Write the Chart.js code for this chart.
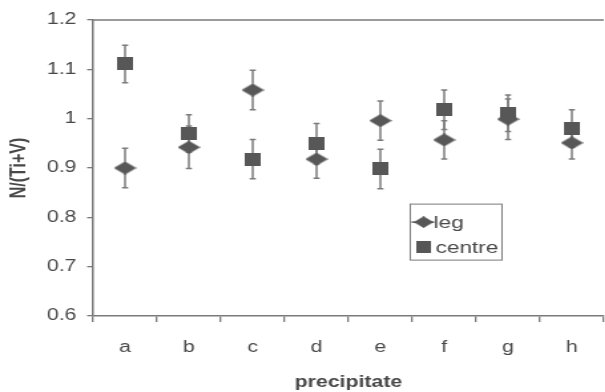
<!DOCTYPE html>
<html>
<head>
<meta charset="utf-8">
<script src="https://cdn.jsdelivr.net/npm/chart.js@4"></script>
<style>
  html, body { margin: 0; padding: 0; background: #fff; }
  #wrap { width: 605px; height: 392px; overflow: hidden; }
  /* the source scan is stretched sideways, so the canvas is too */
  #chart { transform: scaleX(1.33); transform-origin: 0 0; }
</style>
</head>
<body>
<div id="wrap"><canvas id="chart" width="463" height="392"></canvas></div>
<script>
// data
const categories = ['a', 'b', 'c', 'd', 'e', 'f', 'g', 'h'];
const legValues = [0.900, 0.942, 1.058, 0.918, 0.996, 0.957, 0.999, 0.951];
const legErrors = [0.040, 0.043, 0.040, 0.039, 0.040, 0.039, 0.041, 0.033];
const centreValues = [1.111, 0.970, 0.918, 0.949, 0.898, 1.018, 1.011, 0.980];
const centreErrors = [0.038, 0.038, 0.040, 0.041, 0.040, 0.040, 0.037, 0.038];
const yTickLabels = ['0.6', '0.7', '0.8', '0.9', '1', '1.1', '1.2'];

const markColor = '#575757';
const barColor = '#7c7c7c';
const axisColor = '#7a7a7a';
const textColor = '#484848';
const fontFamily = '"Liberation Sans", Arial, sans-serif';

// marker images
function diamond(w, h) {
    const c = document.createElement('canvas');
    c.width = w; c.height = h;
    const g = c.getContext('2d');
    g.fillStyle = markColor;
    g.beginPath();
    g.moveTo(w / 2, 0); g.lineTo(w, h / 2); g.lineTo(w / 2, h); g.lineTo(0, h / 2);
    g.closePath();
    g.fill();
    return c;
}
function square(w, h) {
    const c = document.createElement('canvas');
    c.width = w; c.height = h;
    const g = c.getContext('2d');
    g.fillStyle = markColor;
    g.fillRect(0, 0, w, h);
    return c;
}
const legMark = diamond(17, 13);
const centreMark = square(12, 13);

// error bars, drawn under the markers
const errorBars = {
    id: 'errorBars',
    beforeDatasetsDraw(chart) {
        const ctx = chart.ctx;
        const x = chart.scales.x, y = chart.scales.y;
        ctx.save();
        ctx.strokeStyle = barColor;
        ctx.lineWidth = 1.5;
        chart.data.datasets.forEach(ds => {
            ds.data.forEach((v, i) => {
                const px = x.getPixelForValue(i);
                const top = y.getPixelForValue(v + ds.errors[i]);
                const bot = y.getPixelForValue(v - ds.errors[i]);
                ctx.beginPath();
                ctx.moveTo(px, top); ctx.lineTo(px, bot);
                ctx.moveTo(px - 2.3, top); ctx.lineTo(px + 2.3, top);
                ctx.moveTo(px - 2.3, bot); ctx.lineTo(px + 2.3, bot);
                ctx.stroke();
            });
        });
        ctx.restore();
    }
};

// top frame line and the boxed legend inside the plot
const frameAndLegend = {
    id: 'frameAndLegend',
    afterDraw(chart) {
        const ctx = chart.ctx;
        const ca = chart.chartArea;
        ctx.save();
        ctx.strokeStyle = axisColor;
        ctx.lineWidth = 1.5;
        ctx.beginPath();
        ctx.moveTo(ca.left, ca.top); ctx.lineTo(ca.right, ca.top);
        ctx.stroke();

        const bx = ca.left + 0.621 * (ca.right - ca.left);
        const by = ca.top + 0.622 * (ca.bottom - ca.top);
        ctx.lineWidth = 1;
        ctx.strokeRect(bx, by, 69, 56);

        ctx.font = '17px ' + fontFamily;
        ctx.fillStyle = textColor;
        ctx.textBaseline = 'middle';
        chart.data.datasets.forEach((ds, i) => {
            const ry = by + 18 + i * 25;
            if (ds.legendLine) {
                ctx.strokeStyle = markColor;
                ctx.lineWidth = 1.5;
                ctx.beginPath();
                ctx.moveTo(bx + 1, ry); ctx.lineTo(bx + 18, ry);
                ctx.stroke();
            }
            const img = ds.pointStyle;
            const w = img.width * 0.88, h = img.height * 0.88;
            ctx.drawImage(img, bx + 10 - w / 2, ry - h / 2, w, h);
            ctx.fillText(ds.label, bx + 17.5 + i * 1.5, ry + 1);
        });
        ctx.restore();
    }
};

new Chart(document.getElementById('chart'), {
    type: 'line',
    data: {
        labels: categories,
        datasets: [{
            label: 'leg',
            data: legValues,
            errors: legErrors,
            legendLine: true,
            showLine: false,
            pointStyle: legMark,
            pointRadius: 8
        }, {
            label: 'centre',
            data: centreValues,
            errors: centreErrors,
            showLine: false,
            pointStyle: centreMark,
            pointRadius: 8
        }]
    },
    options: {
        responsive: false,
        animation: false,
        events: [],
        layout: { padding: { top: 20, right: 1, bottom: 0, left: 0 } },
        plugins: { legend: { display: false }, tooltip: { enabled: false } },
        scales: {
            x: {
                type: 'category',
                offset: true,
                grid: { offset: true, drawOnChartArea: false, drawTicks: true, tickLength: 6, color: axisColor, lineWidth: 1.3 },
                border: { color: axisColor, width: 1.5 },
                ticks: { color: textColor, font: { family: fontFamily, size: 16 }, padding: 16 },
                title: { display: true, text: 'precipitate', color: textColor, font: { family: fontFamily, size: 16, weight: 'bold' }, padding: { top: 0, bottom: 0 } },
                afterFit: s => { s.height = 76; }
            },
            y: {
                min: 0.6,
                max: 1.2,
                ticks: {
                    stepSize: 0.1,
                    color: textColor,
                    font: { family: fontFamily, size: 16 },
                    padding: 8,
                    callback: v => yTickLabels[Math.round((v - 0.6) * 10)]
                },
                grid: { drawOnChartArea: false, drawTicks: true, tickLength: 4.5, color: axisColor, lineWidth: 1.3 },
                border: { color: axisColor, width: 1.5 },
                title: { display: true, text: 'N/(Ti+V)', color: textColor, font: { family: fontFamily, size: 16, weight: 'bold' }, padding: { top: 5, bottom: 0 } },
                afterFit: s => { s.width = 70; }
            }
        }
    },
    plugins: [errorBars, frameAndLegend]
});
</script>
</body>
</html>
